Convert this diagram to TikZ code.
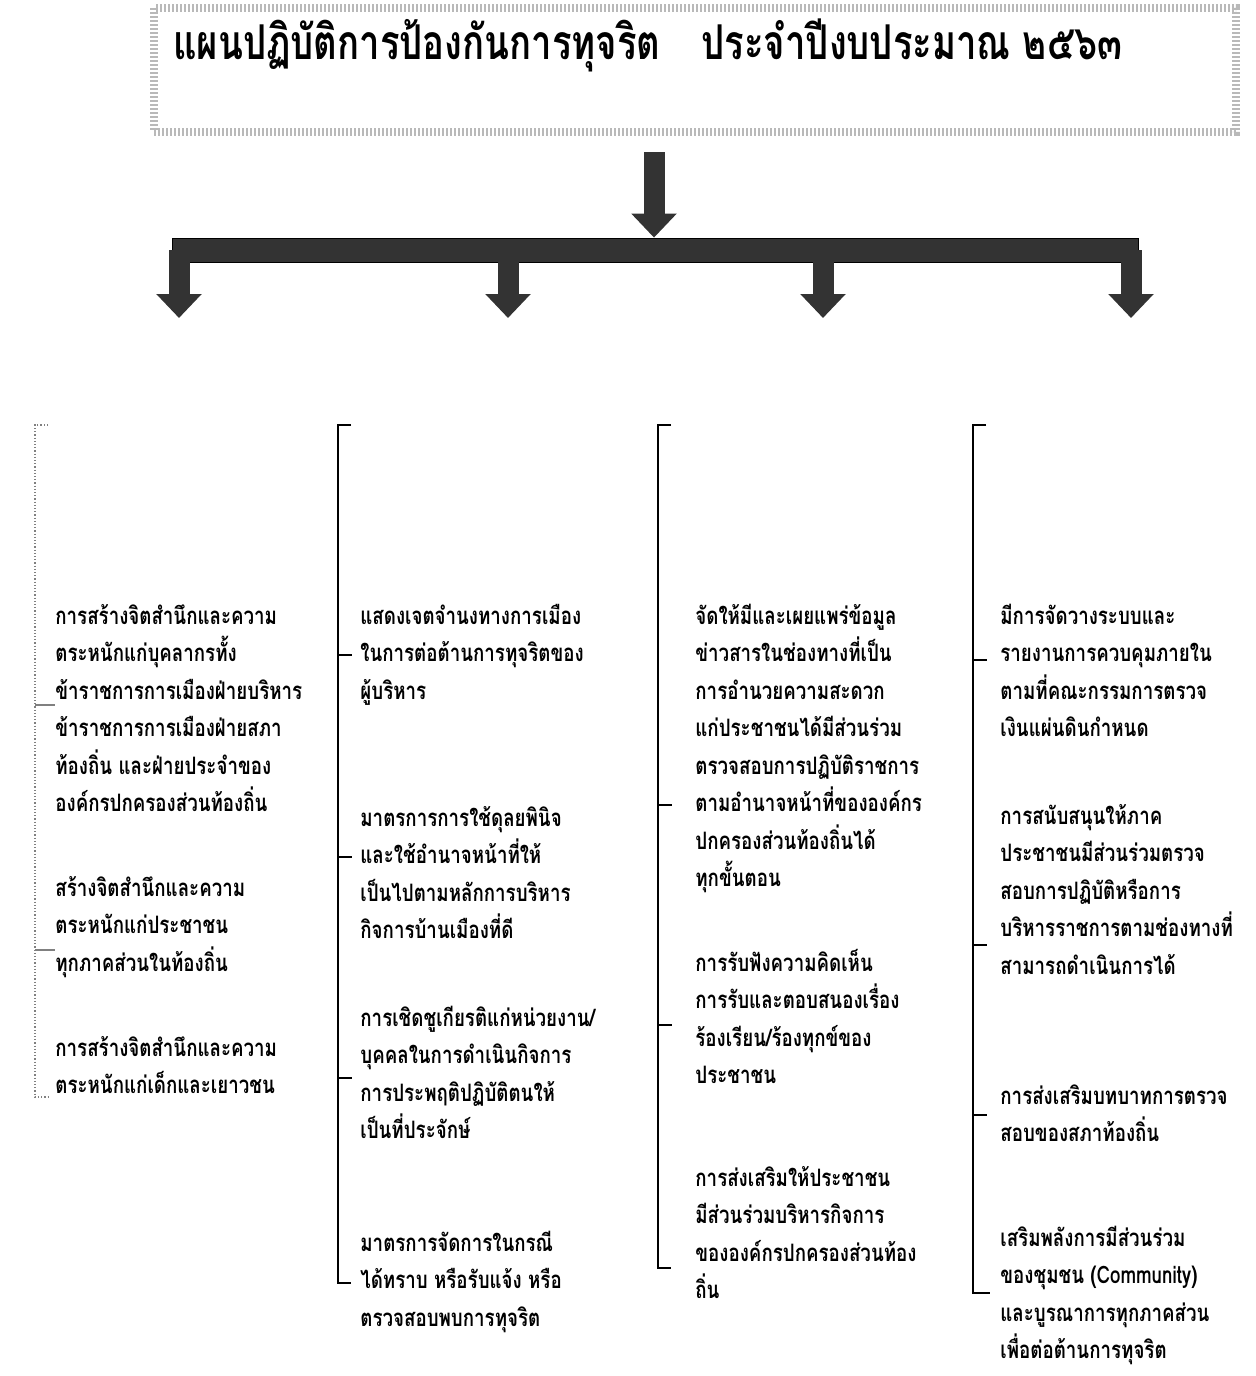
\documentclass[tikz,border=0pt]{standalone}
\usepackage{fontspec}
\newfontfamily\thai[Script=Thai, FakeStretch=0.78]{Loma}
\newfontfamily\thaititle[Script=Thai, FakeStretch=0.76]{Loma}
\usepackage{tikz}
\usetikzlibrary{arrows.meta, positioning}
\tikzstyle{item} = [anchor=base west, inner sep=0pt, align=left, font=\thai\bfseries\fontsize{12}{18.75}\selectfont]
\tikzstyle{fat} = [line width=10.5pt, draw=black!80, -{Triangle[width=22pt,length=12pt]}]
\tikzstyle{brace} = [line width=1pt, draw=black]

\begin{document}
\begin{tikzpicture}[x=0.5pt, y=-0.5pt]
    \useasboundingbox (0,0) rectangle (1255,1376);

    % Title
    \node (frame) at (695,70) [rectangle, draw=gray!55, line width=4pt, dash pattern=on 1pt off 1pt, minimum width=541pt, minimum height=62pt] {};
    \node (title) at (648,45) [font=\thaititle\bfseries\fontsize{24}{28}\selectfont] {แผนปฏิบัติการป้องกันการทุจริต\hspace{0.6em} ประจำปีงบประมาณ ๒๕๖๓};

    % Arrows
    \coordinate (top) at (654,152);
    \node (bar) at (655,250) [rectangle, fill=black!80, draw=black, minimum width=483pt, minimum height=12pt, inner sep=0pt] {};
    \draw [fat] (top) -- (top |- bar.north);
    \foreach \x/\n in {179/1, 508/2, 823/3, 1131/4} {
        \coordinate (a\n) at (\x,318);
        \draw [fat] (bar.center -| a\n) -- (a\n);
    }

    % Brackets
    \draw [brace, draw=gray, line width=0.6pt, densely dotted] (48,425) -- (35,425) -- (35,1097) -- (48,1097);
    \draw [brace, draw=gray] (35,705) -- (55,705) (35,950) -- (55,950);
    \draw [brace] (351,425) -- (338,425) -- (338,1283) -- (351,1283);
    \draw [brace] (338,655) -- (352,655) (338,857) -- (352,857) (338,1078) -- (352,1078);
    \draw [brace] (671,425) -- (658,425) -- (658,1268) -- (671,1268);
    \draw [brace] (658,805) -- (672,805) (658,1025) -- (672,1025);
    \draw [brace] (986,425) -- (973,425) -- (973,1293) -- (990,1293);
    \draw [brace] (973,660) -- (987,660) (973,945) -- (987,945) (973,1115) -- (987,1115);

    % Column 1 (base = last line)
    \node (c1a) at (55,811.5) [item] {การสร้างจิตสำนึกและความ\\ตระหนักแก่บุคลากรทั้ง\\ข้าราชการการเมืองฝ่ายบริหาร\\ข้าราชการการเมืองฝ่ายสภา\\ท้องถิ่น และฝ่ายประจำของ\\องค์กรปกครองส่วนท้องถิ่น};
    \node (c1b) at (55,971) [item] {สร้างจิตสำนึกและความ\\ตระหนักแก่ประชาชน\\ทุกภาคส่วนในท้องถิ่น};
    \node (c1c) at (55,1093.5) [item] {การสร้างจิตสำนึกและความ\\ตระหนักแก่เด็กและเยาวชน};

    % Column 2
    \node (c2a) at (360,699) [item] {แสดงเจตจำนงทางการเมือง\\ในการต่อต้านการทุจริตของ\\ผู้บริหาร};
    \node (c2b) at (360,938.5) [item] {มาตรการการใช้ดุลยพินิจ\\และใช้อำนาจหน้าที่ให้\\เป็นไปตามหลักการบริหาร\\กิจการบ้านเมืองที่ดี};
    \node (c2c) at (360,1138.5) [item] {การเชิดชูเกียรติแก่หน่วยงาน/\\บุคคลในการดำเนินกิจการ\\การประพฤติปฏิบัติตนให้\\เป็นที่ประจักษ์};
    \node (c2d) at (360,1326) [item] {มาตรการจัดการในกรณี\\ได้ทราบ หรือรับแจ้ง หรือ\\ตรวจสอบพบการทุจริต};

    % Column 3
    \node (c3a) at (695,886.5) [item] {จัดให้มีและเผยแพร่ข้อมูล\\ข่าวสารในช่องทางที่เป็น\\การอำนวยความสะดวก\\แก่ประชาชนได้มีส่วนร่วม\\ตรวจสอบการปฏิบัติราชการ\\ตามอำนาจหน้าที่ขององค์กร\\ปกครองส่วนท้องถิ่นได้\\ทุกขั้นตอน};
    \node (c3b) at (695,1083.5) [item] {การรับฟังความคิดเห็น\\การรับและตอบสนองเรื่อง\\ร้องเรียน/ร้องทุกข์ของ\\ประชาชน};
    \node (c3c) at (695,1298.5) [item] {การส่งเสริมให้ประชาชน\\มีส่วนร่วมบริหารกิจการ\\ขององค์กรปกครองส่วนท้อง\\ถิ่น};

    % Column 4
    \node (c4a) at (1000,736.5) [item] {มีการจัดวางระบบและ\\รายงานการควบคุมภายใน\\ตามที่คณะกรรมการตรวจ\\เงินแผ่นดินกำหนด};
    \node (c4b) at (1000,974) [item] {การสนับสนุนให้ภาค\\ประชาชนมีส่วนร่วมตรวจ\\สอบการปฏิบัติหรือการ\\บริหารราชการตามช่องทางที่\\สามารถดำเนินการได้};
    \node (c4c) at (1000,1141.5) [item] {การส่งเสริมบทบาทการตรวจ\\สอบของสภาท้องถิ่น};
    \node (c4d) at (1000,1358.5) [item] {เสริมพลังการมีส่วนร่วม\\ของชุมชน (Community)\\และบูรณาการทุกภาคส่วน\\เพื่อต่อต้านการทุจริต};
\end{tikzpicture}
\end{document}
